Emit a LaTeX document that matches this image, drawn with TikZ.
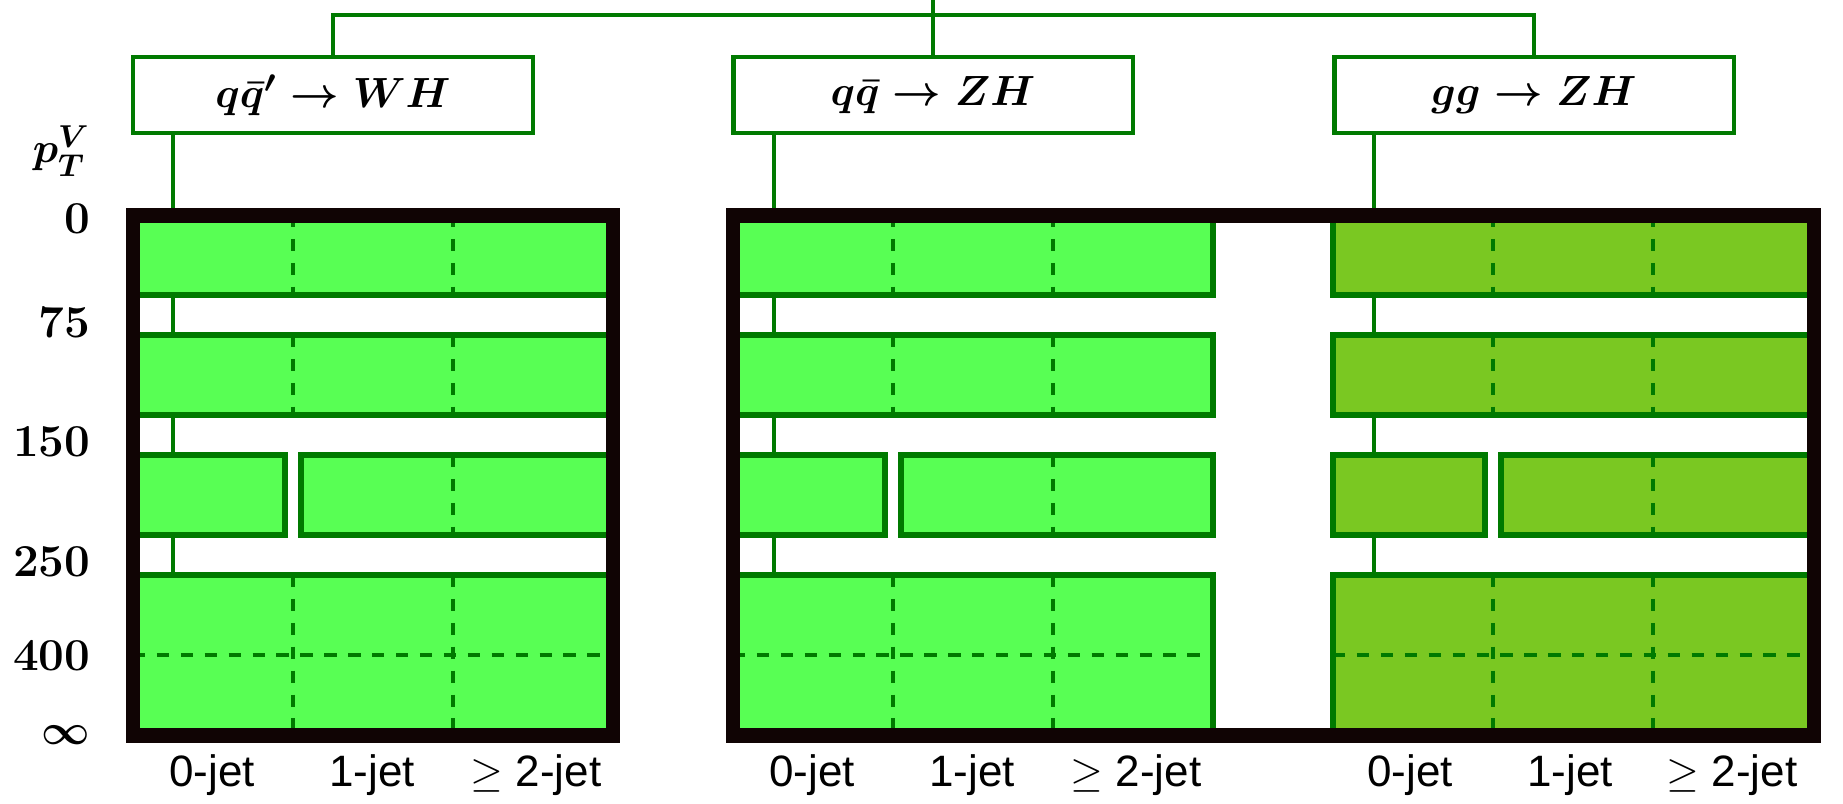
\documentclass[tikz,border=0pt]{standalone}
\usepackage{amsmath}
\usepackage{fontspec}
\newfontfamily\jetfont{Liberation Sans}
\usepackage{tikz}
\usetikzlibrary{positioning}

\definecolor{lightgr}{RGB}{88,255,84}
\definecolor{olivegr}{RGB}{122,200,34}
\definecolor{edgegr}{RGB}{0,122,0}
\definecolor{framebk}{RGB}{16,4,4}

\begin{document}
\begin{tikzpicture}
	[x=0.01cm, y=-0.01cm,
	proc/.style = {draw=edgegr, line width=1.2pt, fill=white, minimum width=3.99cm, minimum height=0.76cm, font=\fontsize{13}{15}\selectfont\boldmath},
	link/.style = {edgegr, line width=1pt},
	cellA/.style = {draw=edgegr, line width=1.5pt, fill=lightgr},
	cellB/.style = {cellA, fill=olivegr},
	sep/.style = {edgegr, line width=1.3pt, dash pattern=on 3.5pt off 3.3pt},
	panelframe/.style = {draw=framebk, line width=4.2pt},
	ptlabel/.style = {anchor=east, inner sep=0pt, font=\fontsize{13}{15}\selectfont\bfseries\boldmath},
	jetlabel/.style = {anchor=base, inner sep=0pt, font=\jetfont\fontsize{12.5}{14}\selectfont}]
	\useasboundingbox (0,0) rectangle (1843,804);
	\node[proc] (wh) at (333,95) {$q\bar{q}' \to WH$};
	\node[proc] (zh) at (933,95) {$q\bar{q} \to ZH$};
	\node[proc] (ggzh) at (1534,95) {$gg \to ZH$};
	\coordinate (top) at (933,0);
	\coordinate (bus) at (933,15);
	\coordinate (d1) at (173,575);
	\coordinate (d2) at (774,575);
	\coordinate (d3) at (1374,575);
	\draw[link] (wh.north) |- (bus) -| (ggzh.north);
	\draw[link] (zh.north) -- (top);
	\draw[link] (wh.south -| d1) -- (d1);
	\draw[link] (zh.south -| d2) -- (d2);
	\draw[link] (ggzh.south -| d3) -- (d3);

	\draw[cellA] (133,215) rectangle (613,295);
	\draw[cellA] (133,335) rectangle (613,415);
	\draw[cellA] (133,455) rectangle (285,535);
	\draw[cellA] (301,455) rectangle (613,535);
	\draw[cellA] (133,575) rectangle (613,736);
	\draw[sep] (293,215) -- (293,295) (453,215) -- (453,295)
		(293,335) -- (293,415) (453,335) -- (453,415)
		(453,455) -- (453,535)
		(293,575) -- (293,736) (453,575) -- (453,736)
		(133,655) -- (613,655);

	\draw[cellA] (733,215) rectangle (1213,295);
	\draw[cellA] (733,335) rectangle (1213,415);
	\draw[cellA] (733,455) rectangle (885,535);
	\draw[cellA] (901,455) rectangle (1213,535);
	\draw[cellA] (733,575) rectangle (1213,736);
	\draw[sep] (893,215) -- (893,295) (1053,215) -- (1053,295)
		(893,335) -- (893,415) (1053,335) -- (1053,415)
		(1053,455) -- (1053,535)
		(893,575) -- (893,736) (1053,575) -- (1053,736)
		(733,655) -- (1213,655);

	\draw[cellB] (1333,215) rectangle (1813,295);
	\draw[cellB] (1333,335) rectangle (1813,415);
	\draw[cellB] (1333,455) rectangle (1485,535);
	\draw[cellB] (1501,455) rectangle (1813,535);
	\draw[cellB] (1333,575) rectangle (1813,736);
	\draw[sep] (1493,215) -- (1493,295) (1653,215) -- (1653,295)
		(1493,335) -- (1493,415) (1653,335) -- (1653,415)
		(1653,455) -- (1653,535)
		(1493,575) -- (1493,736) (1653,575) -- (1653,736)
		(1333,655) -- (1813,655);

	\draw[panelframe] (133,215.5) rectangle (613,735.5);
	\draw[panelframe] (733,215.5) rectangle (1814,735.5);

	\node[ptlabel] (pt) at (91,151) {$p_T^V$};
	\node[ptlabel] (n0) at (91,219) {0};
	\node[ptlabel] (n75) at (91,322) {75};
	\node[ptlabel] (n150) at (91,442) {150};
	\node[ptlabel] (n250) at (91,562) {250};
	\node[ptlabel] (n400) at (91,656) {400};
	\node[ptlabel] (ninf) at (91,735) {$\infty$};

	\node[jetlabel] (j10) at (212,787) {0-jet};
	\node[jetlabel] (j11) at (372,787) {1-jet};
	\node[jetlabel] (j12) at (536,787) {$\geq$ 2-jet};
	\node[jetlabel] (j20) at (812,787) {0-jet};
	\node[jetlabel] (j21) at (972,787) {1-jet};
	\node[jetlabel] (j22) at (1136,787) {$\geq$ 2-jet};
	\node[jetlabel] (j30) at (1410,787) {0-jet};
	\node[jetlabel] (j31) at (1570,787) {1-jet};
	\node[jetlabel] (j32) at (1732,787) {$\geq$ 2-jet};
\end{tikzpicture}
\end{document}
